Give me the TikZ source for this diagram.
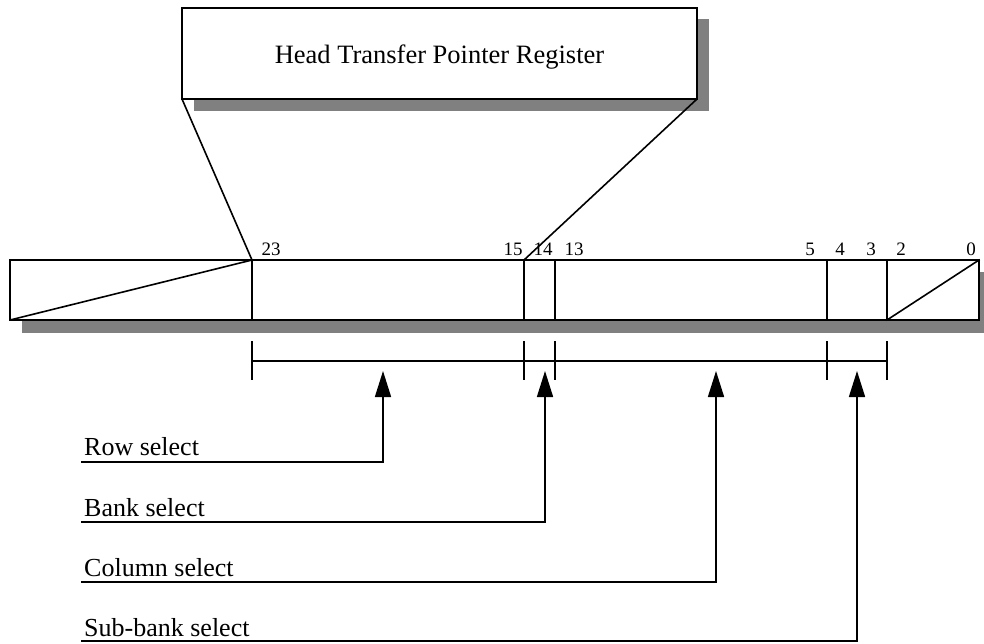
\documentclass[tikz,border=0pt]{standalone}
\usepackage{fontspec}
\setmainfont{Liberation Serif}
\usetikzlibrary{arrows.meta,calc}
\definecolor{shadowgray}{HTML}{808080}
\tikzset{
  ln/.style={line width=1.6pt, line cap=rect},
  regbox/.style={draw, ln, fill=white, inner sep=0pt, outer sep=0pt},
  bitnum/.style={font=\fontsize{19}{22}\selectfont, anchor=base, inner sep=0pt},
  sellabel/.style={font=\fontsize{26}{30}\selectfont, anchor=base west, inner sep=0pt},
  selarrow/.style={line width=1.6pt, -{Triangle[length=26pt,width=16pt]}},
}
\begin{document}
\begin{tikzpicture}[x=1pt,y=-1pt]
\useasboundingbox (0,0) rectangle (984,643);

% register title box with its shadow
\fill[shadowgray] (194,19) rectangle (709,111);
\node[regbox, minimum width=515pt, minimum height=91pt] (htpr) at (439.5,53.5) {};
\node[font=\fontsize{26.5}{30}\selectfont, anchor=base, inner sep=0pt]
      (htprtext) at (439.5,63) {Head Transfer Pointer Register};

% bit boundaries on the register bar
\coordinate (b23) at (252,260);
\coordinate (b15) at (524,260);
\coordinate (b13) at (555,260);
\coordinate (b5)  at (827,260);
\coordinate (b2)  at (887,260);

% register bar with its shadow
\fill[shadowgray] (22,272) rectangle (991,333);
\node[regbox, minimum width=969pt, minimum height=60pt] (reg) at (494.5,290) {};

% zoom lines from the title box onto bits 23..15
\draw[ln, line cap=butt] (htpr.south west) -- (b23);
\draw[ln, line cap=butt] (htpr.south east) -- (b15);

% field dividers and unused-bit diagonals
\foreach \b in {b23,b15,b13,b5,b2}
  \draw[ln, line cap=butt] (\b) -- (\b |- reg.south);
\draw[ln] (reg.south west) -- (b23);
\draw[ln] (b2 |- reg.south) -- (reg.north east);

% bit numbers
\node[bitnum] (n23) at (271,255) {23};
\node[bitnum] (n15) at (513,255) {15};
\node[bitnum] (n14) at (543,255) {14};
\node[bitnum] (n13) at (574,255) {13};
\node[bitnum] (n5)  at (810,255) {5};
\node[bitnum] (n4)  at (840,255) {4};
\node[bitnum] (n3)  at (871,255) {3};
\node[bitnum] (n2)  at (901,255) {2};
\node[bitnum] (n0)  at (971,255) {0};

% field extent bracket
\draw[ln, line cap=butt] (252,361) -- (887,361);
\foreach \b in {b23,b15,b13,b5,b2}
  \draw[ln, line cap=butt] ($(\b)+(0,81)$) -- ($(\b)+(0,120)$);

% selector arrow tips
\coordinate (rowtip) at (383,371);
\coordinate (banktip) at (545,371);
\coordinate (coltip) at (716,371);
\coordinate (subtip) at (857,371);

% selector labels and leader lines
\node[sellabel] (rowl) at (84,455) {Row select};
\node[sellabel] (bankl) at (84,516) {Bank select};
\node[sellabel] (coll) at (84,576) {Column select};
\node[sellabel] (subl) at (84,636) {Sub-bank select};

\coordinate (rowend) at (81,462);
\coordinate (bankend) at (81,522);
\coordinate (colend) at (81,582);
\coordinate (subend) at (81,641);

\draw[selarrow] (rowend) -| (rowtip);
\draw[selarrow] (bankend) -| (banktip);
\draw[selarrow] (colend) -| (coltip);
\draw[selarrow] (subend) -| (subtip);
\end{tikzpicture}
\end{document}
